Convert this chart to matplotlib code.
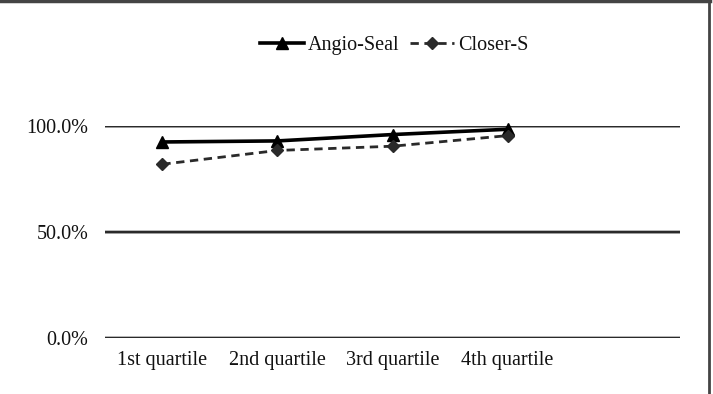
import matplotlib.pyplot as plt
from matplotlib.lines import Line2D
from matplotlib.ticker import PercentFormatter

plt.rcParams["font.family"] = ["Liberation Serif", "DejaVu Serif"]

categories = ["1st quartile", "2nd quartile", "3rd quartile", "4th quartile", ""]
angio_seal = [0.925, 0.93, 0.96, 0.985]
closer_s = [0.82, 0.885, 0.905, 0.955]
y_ticks = [0.0, 0.5, 1.0]

fig = plt.figure(figsize=(7.13, 3.94), dpi=100)
ax = fig.add_axes([0.147, 0.142, 0.807, 0.538])

xs = range(len(angio_seal))
ax.plot(xs, angio_seal, color="black", lw=2.6, marker="^", ms=8,
        label="Angio-Seal", clip_on=False, zorder=3)
ax.plot(xs, closer_s, color="#2a2a2a", lw=2.0, ls=(0, (3, 2)), marker="D",
        ms=6.5, label="Closer-S", clip_on=False, zorder=3)

ax.set_xlim(-0.5, len(categories) - 0.5)
ax.set_ylim(0, 1.0)
ax.set_yticks(y_ticks)
ax.yaxis.set_major_formatter(PercentFormatter(1.0, decimals=1))
ax.set_xticks(range(len(categories)))
ax.set_xticklabels(categories)
ax.grid(axis="y", color="#2a2a2a", lw=2.0, snap=False)
ax.set_axisbelow(True)
for s in ax.spines.values():
    s.set_visible(False)
ax.tick_params(length=0, labelsize=14.5, colors="#111111")
ax.tick_params(axis="y", pad=12)
ax.tick_params(axis="x", pad=9)

ax.legend(loc="center", bbox_to_anchor=(0.553, 0.885), bbox_transform=fig.transFigure,
          ncol=2, frameon=False, fontsize=14.5, handlelength=2.2,
          columnspacing=0.5, handletextpad=0.2, labelcolor="#111111")

# outer frame (top and right edges visible in reference)
fig.add_artist(Line2D([0, 0.996], [0.997, 0.997], color="#444444", lw=2.5))
fig.add_artist(Line2D([0.995, 0.995], [0, 0.997], color="#444444", lw=2.0))

fig.savefig("out.png", dpi=100)
